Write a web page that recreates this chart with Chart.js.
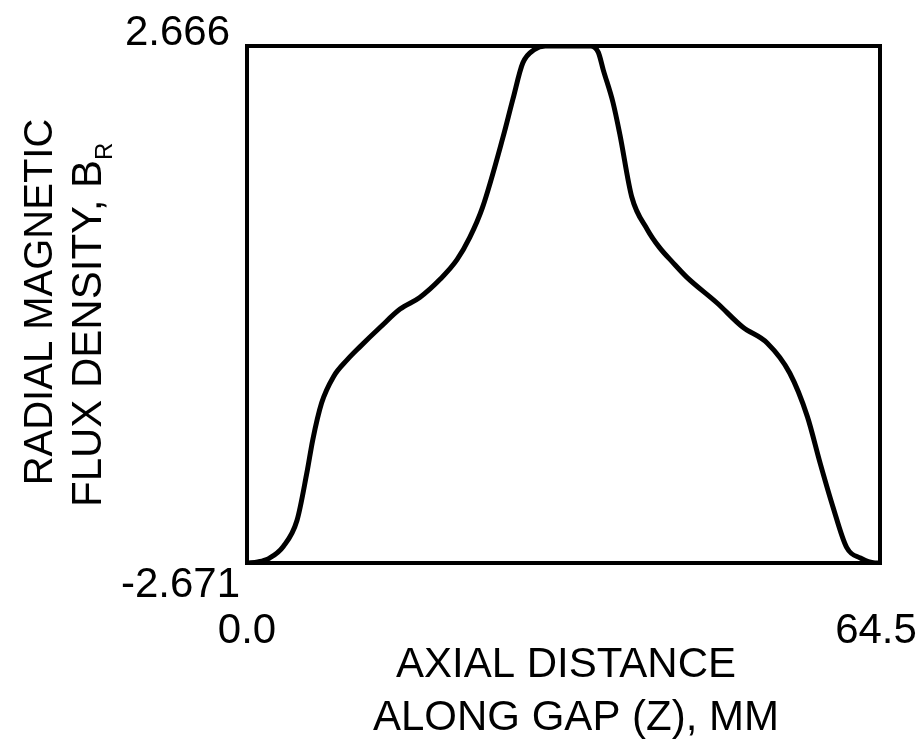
<!DOCTYPE html>
<html lang="en">
<head>
    <meta charset="UTF-8">
    <title>Radial magnetic flux density along gap</title>
    <script src="https://cdn.jsdelivr.net/npm/chart.js"></script>
    <style>
        html, body {
            margin: 0;
            padding: 0;
            background-color: #ffffff;
        }
        canvas {
            display: block;
        }
    </style>
</head>
<body>
    <canvas id="fluxChart" width="921" height="749"></canvas>

    <script>
        // axial position along the gap (mm)
        const axialDistance = [
            0, 1.1, 2.3, 3.7, 5.1, 6.1, 6.7, 7.6, 8.8, 10.2, 11.5, 13.6, 15.6, 17.6,
            19.7, 21.4, 22.7, 24.0, 26.1, 27.1, 28.1, 29.3, 30.4, 35.0, 35.8,
            36.3, 37.3, 38.0, 39.2, 40.8, 42.0, 43.4, 44.8, 47.9, 50.5, 53.0, 55.3, 57.1,
            58.4, 59.7, 61.1, 62.5, 64.0, 64.5
        ];
        // radial flux density B_R
        const fluxDensity = [
            -2.671, -2.66, -2.62, -2.50, -2.23, -1.74, -1.40, -1.02, -0.75, -0.575, -0.44, -0.235, -0.05, 0.07,
            0.26, 0.46, 0.69, 1.00, 1.73, 2.12, 2.49, 2.63, 2.666, 2.666, 2.60,
            2.42, 2.08, 1.75, 1.11, 0.77, 0.59, 0.43, 0.28, 0.013, -0.235, -0.40, -0.71, -1.16,
            -1.64, -2.09, -2.51, -2.62, -2.671, -2.671
        ];
        const xTickLabels = ['0.0', '64.5'];
        const yTickLabels = ['-2.671', '2.666'];
        const xMin = 0, xMax = 64.5;
        const yMin = -2.671, yMax = 2.666;

        const FONT = '42px "Liberation Sans", Arial, sans-serif';

        // box, tick labels and axis titles drawn around the chart area
        const framePlugin = {
            id: 'frame',
            afterDraw(chart) {
                const ctx = chart.ctx;
                const area = chart.chartArea;
                const xs = chart.scales.x;
                const ys = chart.scales.y;

                ctx.save();
                ctx.strokeStyle = '#000';
                ctx.lineWidth = 4;
                ctx.strokeRect(area.left, area.top, area.right - area.left, area.bottom - area.top);

                ctx.fillStyle = '#000';
                ctx.font = FONT;
                ctx.textBaseline = 'alphabetic';

                // y ticks: max above the top corner, min below the bottom corner
                ctx.textAlign = 'right';
                ctx.fillText(yTickLabels[1], xs.getPixelForValue(xMin) - 17, ys.getPixelForValue(yMax) - 1);
                ctx.fillText(yTickLabels[0], xs.getPixelForValue(xMin) - 7, ys.getPixelForValue(yMin) + 34);

                // x ticks
                ctx.textAlign = 'center';
                ctx.fillText(xTickLabels[0], xs.getPixelForValue(xMin), ys.getPixelForValue(yMin) + 80);
                ctx.fillText(xTickLabels[1], xs.getPixelForValue(xMax) - 4, ys.getPixelForValue(yMin) + 80);

                // x axis title
                ctx.fillText('AXIAL DISTANCE', 566, 677);
                ctx.fillText('ALONG GAP (Z), MM', 576, 730);

                // y axis title, rotated
                ctx.translate(52, 302);
                ctx.rotate(-Math.PI / 2);
                ctx.font = '40px "Liberation Sans", Arial, sans-serif';
                ctx.fillText('RADIAL MAGNETIC', 0, 0);
                ctx.restore();

                ctx.save();
                ctx.fillStyle = '#000';
                ctx.translate(101, 507);
                ctx.rotate(-Math.PI / 2);
                ctx.font = FONT;
                ctx.textAlign = 'left';
                const main = 'FLUX DENSITY, B';
                ctx.fillText(main, 0, 0);
                const w = ctx.measureText(main).width;
                ctx.font = '24px "Liberation Sans", Arial, sans-serif';
                ctx.fillText('R', w, 11);
                ctx.restore();
            }
        };

        const ctx = document.getElementById('fluxChart').getContext('2d');
        new Chart(ctx, {
            type: 'line',
            data: {
                datasets: [{
                    label: 'B_R',
                    data: axialDistance.map((z, i) => ({ x: z, y: fluxDensity[i] })),
                    borderColor: '#000',
                    borderWidth: 5,
                    pointRadius: 0,
                    fill: false,
                    cubicInterpolationMode: 'monotone'
                }]
            },
            options: {
                responsive: false,
                animation: false,
                layout: {
                    padding: { left: 247, top: 46, right: 41, bottom: 186 }
                },
                plugins: {
                    legend: { display: false },
                    tooltip: { enabled: false }
                },
                scales: {
                    x: { type: 'linear', min: xMin, max: xMax, display: false },
                    y: { type: 'linear', min: yMin, max: yMax, display: false }
                }
            },
            plugins: [framePlugin]
        });
    </script>
</body>
</html>
